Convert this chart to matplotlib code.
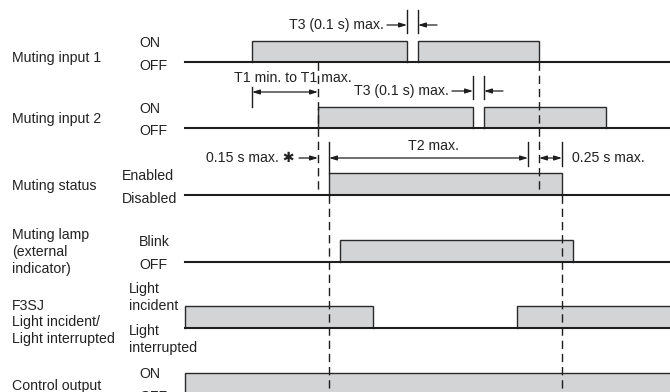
import matplotlib
matplotlib.use("Agg")
import matplotlib.pyplot as plt

plt.rcParams['font.family'] = ['Liberation Sans', 'DejaVu Sans']

# ---- data (time axis in diagram units) ----
t_start, t_end = 185, 675
input1_pulses = [(252, 407), (418, 539)]
input2_pulses = [(318, 473), (484, 606)]
status_pulses = [(329, 562)]
lamp_pulses = [(340, 573)]
f3sj_pulses = [(185, 373), (517, 675)]
control_pulses = [(185, 675)]

# row levels: (low, high)
row_levels = {
    'in1': (62, 41),
    'in2': (128, 107),
    'status': (195, 173),
    'lamp': (262, 240),
    'f3sj': (328, 306),
    'ctrl': (396, 373),
}
row_pulses = {
    'in1': input1_pulses, 'in2': input2_pulses, 'status': status_pulses,
    'lamp': lamp_pulses, 'f3sj': f3sj_pulses, 'ctrl': control_pulses,
}

row_titles = [
    ("Muting input 1", 62), ("Muting input 2", 123), ("Muting status", 190),
    ("Muting lamp", 239), ("(external", 256), ("indicator)", 273),
    ("F3SJ", 310), ("Light incident/", 326), ("Light interrupted", 343),
    ("Control output", 390),
]
state_labels = [
    ("ON", 139, 47), ("OFF", 139, 70), ("ON", 139, 113), ("OFF", 139, 135),
    ("Enabled", 122, 180), ("Disabled", 122, 203), ("Blink", 139, 246),
    ("OFF", 139, 269), ("Light", 129, 293), ("incident", 129, 310),
    ("Light", 129, 335), ("interrupted", 129, 352), ("ON", 139, 378),
    ("OFF", 139, 401),
]

FILL = '#d3d4d6'
EDGE = '#2a2a2a'
DARK = '#1e1e1e'
FS = 10.2

fig = plt.figure(figsize=(6.7, 3.92), dpi=100)
ax = fig.add_axes([0, 0, 1, 1])
ax.set_xlim(0, 670)
ax.set_ylim(392, 0)
ax.axis('off')

for key, pulses in row_pulses.items():
    low, high = row_levels[key]
    for t0, t1 in pulses:
        ax.fill_between([t0, t1], low, high, color=FILL, lw=0, zorder=1)
        ax.plot([t0, t0, t1, t1], [low, high, high, low], color=EDGE,
                lw=1.0, zorder=2, solid_joinstyle='miter')
    ax.plot([t_start, t_end], [low, low], color=DARK, lw=1.5, zorder=3)

# dashed reference lines
dash = dict(color=DARK, lw=1.0, linestyle=(0, (6, 3.5)), zorder=4)
ax.plot([318, 318], [62, 195], **dash)
ax.plot([539, 539], [62, 195], **dash)
ax.plot([329, 329], [195, 400], **dash)
ax.plot([562, 562], [195, 400], **dash)

# solid ticks
tick = dict(color=DARK, lw=1.0, zorder=4)
ax.plot([252, 252], [87, 107], **tick)
ax.plot([407, 407], [10, 33], **tick)
ax.plot([418, 418], [10, 33], **tick)
ax.plot([473, 473], [76, 99], **tick)
ax.plot([484, 484], [76, 99], **tick)
ax.plot([329, 329], [142, 173], **tick)
ax.plot([528, 528], [142, 166], **tick)
ax.plot([562, 562], [142, 166], **tick)


def arrow(x0, x1, y, style='-|>'):
    ax.annotate('', xy=(x1, y), xytext=(x0, y),
                arrowprops=dict(arrowstyle=style + ',head_length=0.45,head_width=0.14',
                                lw=0.9, color=DARK, shrinkA=0, shrinkB=0), zorder=5)


arrow(252, 318, 92, '<|-|>')
arrow(387, 407, 25)
arrow(437, 418, 25)
arrow(452, 473, 91)
arrow(503, 484, 91)
arrow(299, 318, 158)
arrow(329, 528, 158, '<|-|>')
arrow(539, 562, 158, '<|-|>')

tkw = dict(fontsize=FS, color='#222222', va='baseline')
ax.text(384, 29, "T3 (0.1 s) max.", ha='right', **tkw)
ax.text(234, 82, "T1 min. to T1 max.", ha='left', **tkw)
ax.text(449, 95, "T3 (0.1 s) max.", ha='right', **tkw)
ax.text(295, 162, "0.15 s max. \u2731", ha='right', **tkw)
ax.text(433, 150, "T2 max.", ha='center', **tkw)
ax.text(572, 162, "0.25 s max.", ha='left', **tkw)

for txt, y in row_titles:
    ax.text(12, y, txt, ha='left', **tkw)
for txt, x, y in state_labels:
    ax.text(x, y, txt, ha='left', **tkw)

fig.savefig('out.png', dpi=100)
